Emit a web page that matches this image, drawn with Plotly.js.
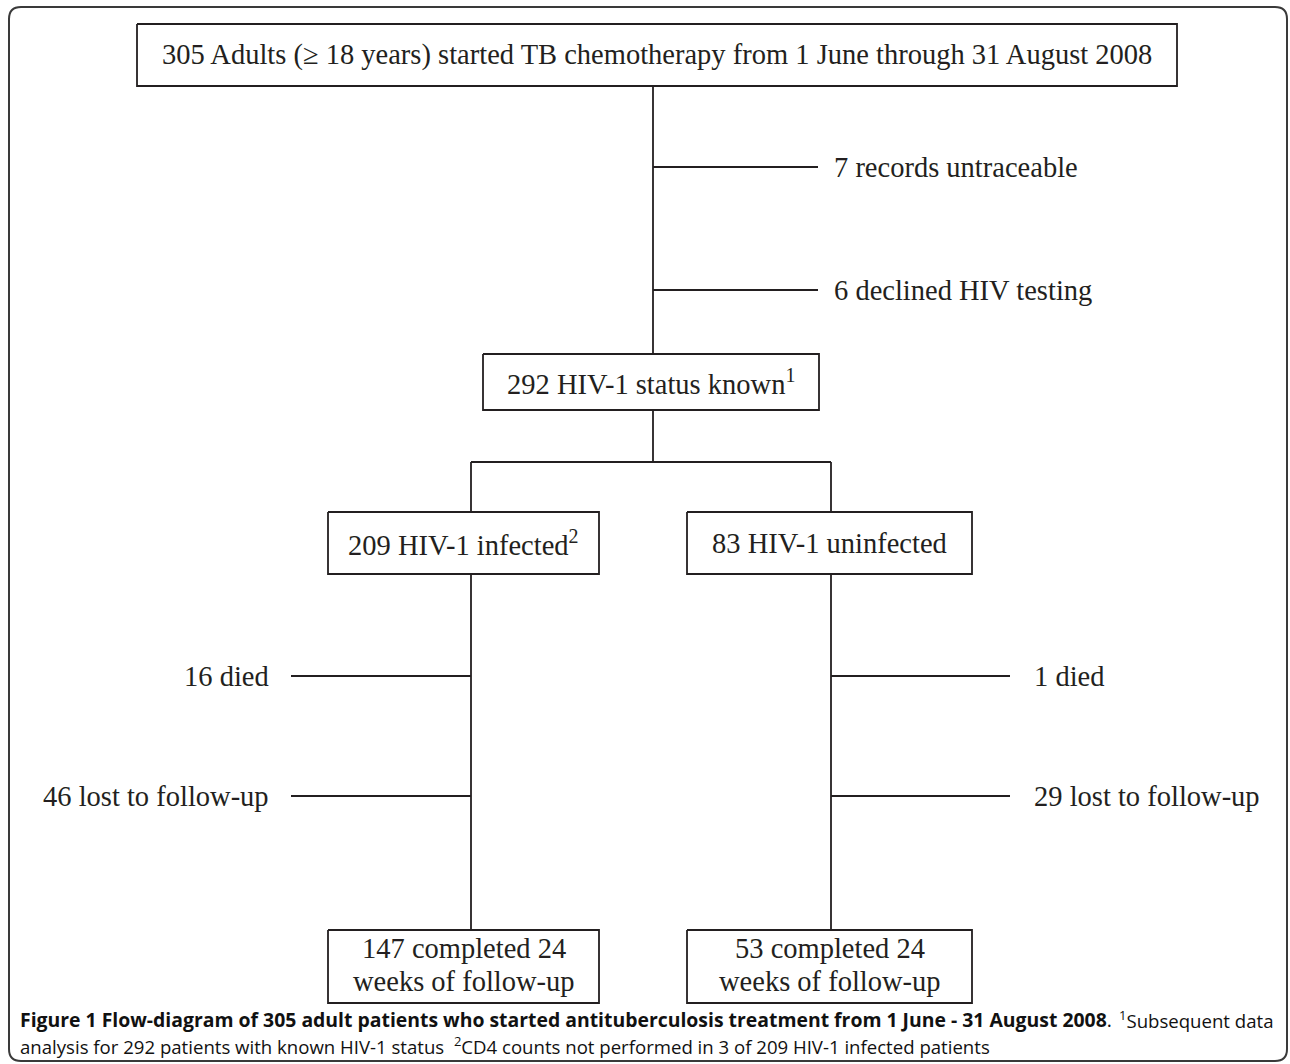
<!DOCTYPE html>
<html>
<head>
<meta charset="utf-8">
<script src="https://cdn.plot.ly/plotly-3.0.1.min.js"></script>
<style>
  html, body { margin: 0; padding: 0; background: #ffffff; }
  #chart { width: 1290px; height: 1064px; }
</style>
</head>
<body>
<div id="chart"></div>
<script>
// ---------------- DATA ----------------
// Main flow nodes (patient counts and their descriptions)
const nodeCounts = [305, 292, 209, 83, 147, 53];
const nodeLabels = [
  "Adults (≥ 18 years) started TB chemotherapy from 1 June through 31 August 2008",
  "HIV-1 status known<sup>1</sup>",
  "HIV-1 infected<sup>2</sup>",
  "HIV-1 uninfected",
  "completed 24<br>weeks of follow-up",
  "completed 24<br>weeks of follow-up"
];
// Side exits (exclusions / losses)
const exitCounts = [7, 6, 16, 46, 1, 29];
const exitLabels = [
  "records untraceable",
  "declined HIV testing",
  "died",
  "lost to follow-up",
  "died",
  "lost to follow-up"
];
// Caption
const captionBold = "Figure 1 Flow-diagram of 305 adult patients who started antituberculosis treatment from 1 June - 31 August 2008";
const captionNote1 = "Subsequent data";
const captionLine2 = "analysis for 292 patients with known HIV-1 status  <sup>2</sup>CD4 counts not performed in 3 of 209 HIV-1 infected patients";

// ---------------- LAYOUT GEOMETRY (pixel space) ----------------
const boxGeom = [
  {x0: 137, x1: 1177, y0: 24,  y1: 86},
  {x0: 483, x1: 819,  y0: 354, y1: 410},
  {x0: 328, x1: 599,  y0: 512, y1: 574},
  {x0: 687, x1: 972,  y0: 512, y1: 574},
  {x0: 328, x1: 599,  y0: 930, y1: 1003},
  {x0: 687, x1: 972,  y0: 930, y1: 1003}
];
const lineGap = 33;
const spineX = 653, leftX = 471, rightX = 831, splitY = 462;
const exitGeom = [
  {y: 167, xa: spineX, xb: 818, tx: 832, anchor: "left"},
  {y: 290, xa: spineX, xb: 818, tx: 832, anchor: "left"},
  {y: 676, xa: 291, xb: leftX, tx: 271, anchor: "right"},
  {y: 796, xa: 291, xb: leftX, tx: 271, anchor: "right"},
  {y: 676, xa: rightX, xb: 1010, tx: 1032, anchor: "left"},
  {y: 796, xa: rightX, xb: 1010, tx: 1032, anchor: "left"}
];

const ink = "#231f20";
const serif = "Liberation Serif, Times New Roman, serif";
const sans = "Open Sans, Noto Sans, sans-serif";
const fs = 28.5;

const traces = [];
function seg(xs, ys, w) {
  traces.push({x: xs, y: ys, type: "scatter", mode: "lines",
    line: {color: ink, width: w || 1.8}, hoverinfo: "skip", showlegend: false});
}

// boxes
boxGeom.forEach(b => seg([b.x0, b.x1, b.x1, b.x0, b.x0], [b.y0, b.y0, b.y1, b.y1, b.y0], 1.8));
// connectors
seg([spineX, spineX], [boxGeom[0].y1, boxGeom[1].y0]);
seg([spineX, spineX], [boxGeom[1].y1, splitY]);
seg([leftX, rightX], [splitY, splitY]);
seg([leftX, leftX], [splitY, boxGeom[2].y0]);
seg([rightX, rightX], [splitY, boxGeom[3].y0]);
seg([leftX, leftX], [boxGeom[2].y1, boxGeom[4].y0]);
seg([rightX, rightX], [boxGeom[3].y1, boxGeom[5].y0]);
exitGeom.forEach(e => seg([e.xa, e.xb], [e.y, e.y]));

// outer frame with rounded corners
const fx0 = 9, fx1 = 1287, fy0 = 7, fy1 = 1061, r = 12;
const shapes = [{
  type: "path", xref: "x", yref: "y",
  path: `M ${fx0+r},${fy0} L ${fx1-r},${fy0} Q ${fx1},${fy0} ${fx1},${fy0+r} L ${fx1},${fy1-r} Q ${fx1},${fy1} ${fx1-r},${fy1} L ${fx0+r},${fy1} Q ${fx0},${fy1} ${fx0},${fy1-r} L ${fx0},${fy0+r} Q ${fx0},${fy0} ${fx0+r},${fy0} Z`,
  line: {color: "#3a3a3a", width: 2}, fillcolor: "rgba(0,0,0,0)"
}];

const annotations = [];
nodeCounts.forEach((c, i) => {
  const b = boxGeom[i];
  const lines = (c + " " + nodeLabels[i]).split("<br>");
  const cy = (b.y0 + b.y1) / 2 - (lines.length > 1 ? 2 : 0);
  lines.forEach((t, k) => {
    annotations.push({
      x: (b.x0 + b.x1) / 2, y: cy + (k - (lines.length - 1) / 2) * lineGap,
      xref: "x", yref: "y",
      text: t, showarrow: false,
      xanchor: "center", yanchor: "middle", align: "center",
      font: {family: serif, size: fs, color: ink}
    });
  });
});
exitCounts.forEach((c, i) => {
  const e = exitGeom[i];
  annotations.push({
    x: e.tx, y: e.y, xref: "x", yref: "y",
    text: c + " " + exitLabels[i], showarrow: false,
    xanchor: e.anchor, yanchor: "middle",
    font: {family: serif, size: fs, color: ink}
  });
});
// caption
annotations.push({
  x: 18, y: 1019, xref: "x", yref: "y", showarrow: false,
  xanchor: "left", yanchor: "middle",
  text: "<b>" + captionBold + "</b>.",
  font: {family: sans, size: 19.4, color: "#111"}
});
annotations.push({
  x: 1275, y: 1019, xref: "x", yref: "y", showarrow: false,
  xanchor: "right", yanchor: "middle",
  text: "<sup>1</sup>" + captionNote1,
  font: {family: sans, size: 18.6, color: "#111"}
});
annotations.push({
  x: 18, y: 1045, xref: "x", yref: "y", showarrow: false,
  xanchor: "left", yanchor: "middle",
  text: captionLine2,
  font: {family: sans, size: 18.6, color: "#111"}
});

const layout = {
  width: 1290, height: 1064,
  margin: {l: 0, r: 0, t: 0, b: 0},
  paper_bgcolor: "#ffffff", plot_bgcolor: "#ffffff",
  xaxis: {range: [0, 1290], visible: false, fixedrange: true},
  yaxis: {range: [1064, 0], visible: false, fixedrange: true},
  shapes: shapes,
  annotations: annotations,
  showlegend: false
};

Plotly.newPlot("chart", traces, layout, {staticPlot: true, displayModeBar: false});
</script>
</body>
</html>
